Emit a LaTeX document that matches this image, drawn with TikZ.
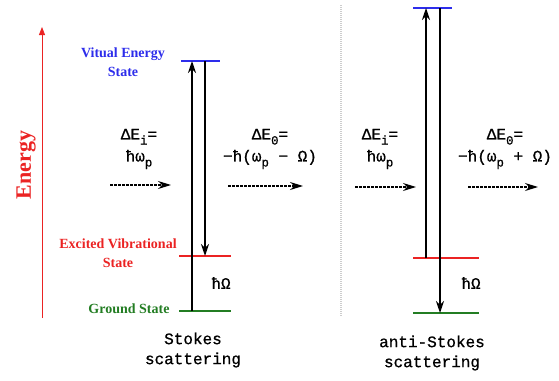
\documentclass[tikz,border=0pt]{standalone}
\usepackage{fontspec}
\setmainfont{Liberation Serif}
\newfontfamily\eqfont[FakeBold=0.8]{Liberation Mono}
\usetikzlibrary{arrows.meta, positioning}
\definecolor{virtblue}{RGB}{45,45,235}
\definecolor{vibred}{RGB}{235,35,35}
\definecolor{groundgreen}{RGB}{35,125,35}
\definecolor{divgray}{RGB}{205,205,205}
\newcommand{\lowsub}[1]{\raisebox{-0.6ex}{\fontsize{12.5}{12.5}\selectfont#1}}

\begin{document}
\begin{tikzpicture}[x=1pt, y=-1pt,
    level/.style={line width=1.6pt},
    trans/.style={-{Stealth[length=12pt,width=8pt]}, line width=1.6pt},
    photon/.style={dash pattern=on 2.5pt off 1.5pt, line width=1.3pt,
                   -{Stealth[length=13pt,width=8pt]}},
    tag/.style={font=\bfseries\fontsize{14}{19}\selectfont, align=center},
    eq/.style={font=\eqfont\fontsize{16}{22}\selectfont, align=center},
    caption/.style={font=\eqfont\fontsize{16}{20}\selectfont, align=center}
]
\useasboundingbox (0,0) rectangle (559,380);

% energy axis
\coordinate (axisbot) at (42,318);
\coordinate (axistop) at (42,27);
\draw[vibred, line width=0.8pt, -{Triangle[length=8pt,width=6pt]}] (axisbot) -- (axistop);
\node[vibred, rotate=90, font=\bfseries\fontsize{22}{22}\selectfont] (energy) at (26,165) {Energy};

% Stokes levels
\coordinate (sVirtL) at (181,61);  \coordinate (sVirtR) at (220,61);
\coordinate (sVibL)  at (179,256); \coordinate (sVibR)  at (231,256);
\coordinate (sGndL)  at (179,311); \coordinate (sGndR)  at (231,311);
\draw[level, virtblue]    (sVirtL) -- (sVirtR);
\draw[level, vibred]      (sVibL)  -- (sVibR);
\draw[level, groundgreen] (sGndL)  -- (sGndR);

\node[tag, virtblue]    (virttag) at (123,62)  {Vitual Energy\\State};
\node[tag, vibred]      (vibtag)  at (118,253) {Excited Vibrational\\State};
\node[tag, groundgreen] (gndtag)  at (129,309) {Ground State};

% Stokes transitions
\coordinate (sUpA) at (192,311);   \coordinate (sUpB) at (192,61);
\coordinate (sDnA) at (205,61);    \coordinate (sDnB) at (205,256);
\draw[trans] (sUpA) -- (sUpB);
\draw[trans] (sDnA) -- (sDnB);
\node[eq] (sOmega) at (221,283) {ħΩ};

\node[eq] (sIn)  at (139,149) {ΔE\lowsub{i}=\\ħω\lowsub{p}};
\node[eq] (sOut) at (270,149) {ΔE\lowsub{0}=\\−ħ(ω\lowsub{p} − Ω)};
\coordinate (sInA)  at (110,185); \coordinate (sInB)  at (171,185);
\coordinate (sOutA) at (228,186); \coordinate (sOutB) at (303,186);
\draw[photon] (sInA) -- (sInB);
\draw[photon] (sOutA) -- (sOutB);

\node[caption] (stokes) at (193,350) {Stokes\\scattering};

% divider
\coordinate (divtop) at (341,5);
\coordinate (divbot) at (341,317);
\draw[divgray, line width=1.5pt, dash pattern=on 1pt off 1pt] (divtop) -- (divbot);

% anti-Stokes levels
\coordinate (aVirtL) at (413,8);   \coordinate (aVirtR) at (452,8);
\coordinate (aVibL)  at (413,258); \coordinate (aVibR)  at (479,258);
\coordinate (aGndL)  at (413,313); \coordinate (aGndR)  at (479,313);
\draw[level, virtblue]    (aVirtL) -- (aVirtR);
\draw[level, vibred]      (aVibL)  -- (aVibR);
\draw[level, groundgreen] (aGndL)  -- (aGndR);

% anti-Stokes transitions
\coordinate (aUpA) at (426,258);   \coordinate (aUpB) at (426,8);
\coordinate (aDnA) at (440,8);     \coordinate (aDnB) at (440,313);
\draw[trans] (aUpA) -- (aUpB);
\draw[trans] (aDnA) -- (aDnB);
\node[eq] (aOmega) at (471,283) {ħΩ};

\node[eq] (aIn)  at (380,149) {ΔE\lowsub{i}=\\ħω\lowsub{p}};
\node[eq] (aOut) at (505,149) {ΔE\lowsub{0}=\\−ħ(ω\lowsub{p} + Ω)};
\coordinate (aInA)  at (355,187); \coordinate (aInB)  at (416,187);
\coordinate (aOutA) at (468,187); \coordinate (aOutB) at (538,187);
\draw[photon] (aInA) -- (aInB);
\draw[photon] (aOutA) -- (aOutB);

\node[caption] (antistokes) at (432,353) {anti-Stokes\\scattering};
\end{tikzpicture}
\end{document}
